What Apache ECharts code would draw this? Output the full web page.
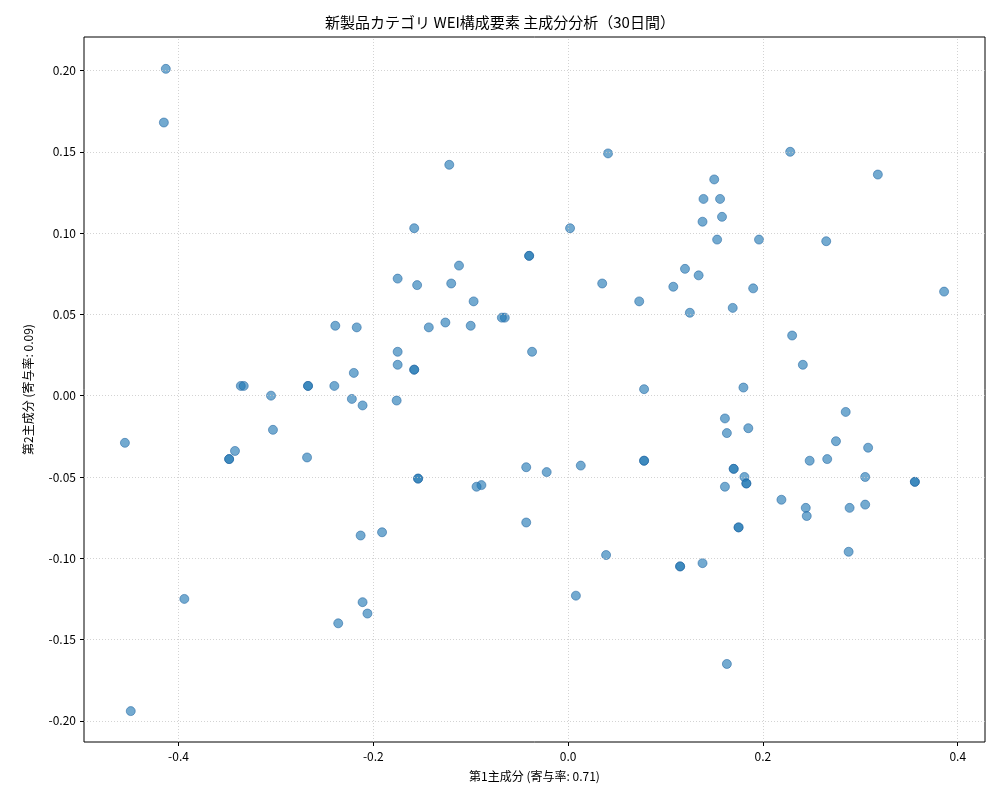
<!DOCTYPE html>
<html><head><meta charset="utf-8">
<script src="https://cdn.jsdelivr.net/npm/echarts@6/dist/echarts.min.js"></script>
<style>html,body{margin:0;background:#fff}#c{width:1000px;height:800px}</style>
</head><body><div id="c"></div>
<script>
const pc1 = [-0.413,-0.415,-0.122,0.041,0.228,0.318,0.150,0.139,0.156,0.158,0.138,-0.158,0.002,0.153,0.196,0.265,-0.040,-0.040,-0.112,0.120,0.134,-0.175,-0.155,-0.120,0.035,0.108,0.190,0.386,0.073,-0.097,0.169,0.125,-0.065,-0.068,-0.239,-0.126,-0.217,-0.143,-0.100,0.230,-0.037,-0.175,0.241,-0.175,-0.158,-0.158,-0.220,-0.336,-0.333,-0.267,-0.267,-0.240,0.078,0.180,-0.305,-0.222,-0.211,-0.176,0.285,0.161,0.163,0.185,-0.303,0.275,0.308,-0.455,-0.342,-0.348,-0.348,-0.268,0.078,0.078,0.248,0.266,0.170,0.170,0.013,-0.043,-0.022,-0.154,-0.154,0.305,0.181,0.183,0.183,0.356,0.356,-0.089,-0.094,0.161,0.219,0.244,0.305,0.289,0.245,0.175,0.175,-0.043,-0.191,-0.213,0.288,0.039,0.115,0.115,0.138,0.008,-0.394,-0.211,-0.206,-0.236,0.163,-0.449];
const pc2 = [0.201,0.168,0.142,0.149,0.150,0.136,0.133,0.121,0.121,0.110,0.107,0.103,0.103,0.096,0.096,0.095,0.086,0.086,0.080,0.078,0.074,0.072,0.068,0.069,0.069,0.067,0.066,0.064,0.058,0.058,0.054,0.051,0.048,0.048,0.043,0.045,0.042,0.042,0.043,0.037,0.027,0.027,0.019,0.019,0.016,0.016,0.014,0.006,0.006,0.006,0.006,0.006,0.004,0.005,0.000,-0.002,-0.006,-0.003,-0.010,-0.014,-0.023,-0.020,-0.021,-0.028,-0.032,-0.029,-0.034,-0.039,-0.039,-0.038,-0.040,-0.040,-0.040,-0.039,-0.045,-0.045,-0.043,-0.044,-0.047,-0.051,-0.051,-0.050,-0.050,-0.054,-0.054,-0.053,-0.053,-0.055,-0.056,-0.056,-0.064,-0.069,-0.067,-0.069,-0.074,-0.081,-0.081,-0.078,-0.084,-0.086,-0.096,-0.098,-0.105,-0.105,-0.103,-0.123,-0.125,-0.127,-0.134,-0.140,-0.165,-0.194];
const xTicks = [-0.4,-0.2,0.0,0.2,0.4];
const yTicks = [-0.20,-0.15,-0.10,-0.05,0.00,0.05,0.10,0.15,0.20];
const ch = echarts.init(document.getElementById('c'));
const font = 'Noto Sans CJK JP';
const gridStyle = {color:'#c8c8c8',type:[1,2],width:0.8};
ch.setOption({
  animation:false,
  textStyle:{fontFamily:font},
  title:{text:'新製品カテゴリ WEI構成要素 主成分分析（30日間）',left:'center',top:10,textStyle:{fontSize:15,fontWeight:'normal',color:'#000',fontFamily:font}},
  grid:{left:84,top:37,width:901,height:705,show:true,borderColor:'#000',borderWidth:1},
  xAxis:{type:'value',min:-0.497,max:0.428,splitLine:{show:false},
    axisLine:{show:false,onZero:false},
    axisTick:{show:true,inside:false,customValues:xTicks,length:4,lineStyle:{color:'#000'}},
    axisLabel:{customValues:xTicks,formatter:v=>v.toFixed(1),color:'#000',fontSize:12,margin:8},
    name:'第1主成分 (寄与率: 0.71)',nameLocation:'middle',nameGap:28,nameTextStyle:{fontSize:12,color:'#000'}},
  yAxis:{type:'value',min:-0.213,max:0.2206,splitLine:{show:false},
    axisLine:{show:false,onZero:false},
    axisTick:{show:true,inside:false,customValues:yTicks,length:4,lineStyle:{color:'#000'}},
    axisLabel:{customValues:yTicks,formatter:v=>v.toFixed(2),color:'#000',fontSize:12,margin:8},
    name:'第2主成分 (寄与率: 0.09)',nameLocation:'middle',nameGap:50,nameTextStyle:{fontSize:12,color:'#000'}},
  series:[{type:'scatter',symbolSize:9,
    itemStyle:{color:'rgba(31,119,180,0.78)',borderColor:'rgba(31,100,160,0.85)',borderWidth:0.8},
    data:pc1.map((x,i)=>[x,pc2[i]]),
    markLine:{silent:true,symbol:'none',label:{show:false},lineStyle:gridStyle,
      data:[...xTicks.map(v=>({xAxis:v})),...yTicks.map(v=>({yAxis:v}))]}
  }]
});
</script></body></html>
